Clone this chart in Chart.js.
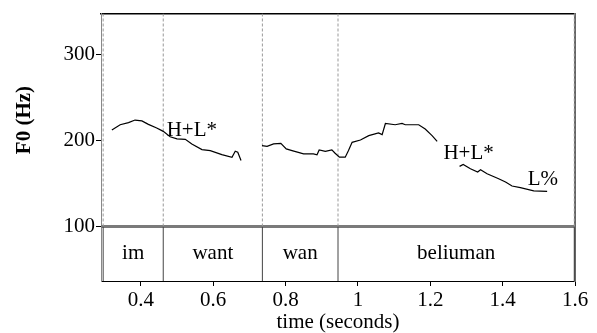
<!DOCTYPE html>
<html>
<head>
<meta charset="utf-8">
<script src="https://cdn.jsdelivr.net/npm/chart.js@4"></script>
<style>
  html, body { margin: 0; padding: 0; background: #fff; }
  #wrap { width: 597px; height: 333px; }
</style>
</head>
<body>
<div id="wrap"><canvas id="pitchChart"></canvas></div>
<script>
// F0 contour, one array pair per voiced stretch (seconds, Hz)
const seg1Time = [0.320, 0.343, 0.366, 0.384, 0.403, 0.421, 0.444, 0.462, 0.481, 0.500, 0.523, 0.541, 0.569, 0.592, 0.624, 0.652, 0.661, 0.668, 0.677];
const seg1F0   = [212.4, 218.5, 221.0, 224.0, 223.0, 219.0, 214.7, 210.8, 204.6, 202.0, 201.5, 196.0, 189.6, 188.4, 183.8, 180.7, 187.7, 186.5, 176.9];

const seg2Time = [0.735, 0.749, 0.767, 0.787, 0.802, 0.818, 0.850, 0.877, 0.887, 0.893, 0.910, 0.928, 0.937, 0.949, 0.965, 0.974, 0.984, 1.007, 1.030, 1.057, 1.067, 1.076, 1.103, 1.122, 1.131, 1.168, 1.186, 1.205, 1.219];
const seg2F0   = [194.2, 193.4, 196.2, 196.9, 190.4, 188.4, 184.6, 184.6, 183.5, 189.2, 187.6, 189.2, 185.3, 180.7, 180.7, 188.4, 198.0, 200.8, 205.8, 208.9, 207.0, 220.0, 218.5, 220.0, 218.5, 218.5, 213.5, 205.8, 199.2];

const seg3Time = [1.281, 1.291, 1.311, 1.331, 1.339, 1.357, 1.389, 1.408, 1.426, 1.449, 1.486, 1.523];
const seg3F0   = [170.0, 172.3, 167.3, 163.4, 166.1, 161.5, 155.7, 151.8, 147.2, 145.3, 141.4, 141.0];

// word tier
const wordBounds = [0.296, 0.462, 0.736, 0.945, 1.598];
const words = ['im', 'want', 'wan', 'beliuman'];

// tone labels
const toneLabels = ['H+L*', 'H+L*', 'L%'];
const toneTime = [0.541, 1.306, 1.511];
const toneF0 = [211.6, 185.3, 154.9];

// axes
const xTicks = [0.4, 0.6, 0.8, 1, 1.2, 1.4, 1.6];
const yTicks = [100, 200, 300];
const xMin = 0.29, xMax = 1.6;
const yMin = 36.5, yMax = 348, tierTop = 100;

const serif = '"Liberation Serif", "Times New Roman", serif';

const toPts = (ts, vs) => ts.map((t, i) => ({ x: t, y: vs[i] }));

// boundary lines: dashed in the pitch panel, solid in the tier
const dashedPts = [], solidPts = [];
wordBounds.forEach(b => {
  dashedPts.push({ x: b, y: tierTop }, { x: b, y: yMax }, { x: b, y: null });
  solidPts.push({ x: b, y: yMin }, { x: b, y: tierTop }, { x: b, y: null });
});

const contour = { borderColor: '#000', borderWidth: 1.2, pointRadius: 0, fill: false, tension: 0 };

const textLayer = {
  id: 'textLayer',
  afterDatasetsDraw(chart) {
    const { ctx, scales: { x, y } } = chart;
    ctx.save();
    ctx.fillStyle = '#000';
    ctx.textAlign = 'center';
    ctx.textBaseline = 'middle';
    ctx.font = '21px ' + serif;
    const tierMid = y.getPixelForValue((yMin + tierTop) / 2);
    words.forEach((w, i) => {
      const cx = x.getPixelForValue((wordBounds[i] + wordBounds[i + 1]) / 2);
      ctx.fillText(w, cx, tierMid);
    });
    toneLabels.forEach((t, i) => {
      ctx.fillText(t, x.getPixelForValue(toneTime[i]), y.getPixelForValue(toneF0[i]));
    });
    // y axis title, centred on the pitch panel
    const py = (y.getPixelForValue(yMax) + y.getPixelForValue(tierTop)) / 2;
    ctx.translate(25, py);
    ctx.rotate(-Math.PI / 2);
    ctx.font = 'bold 21px ' + serif;
    ctx.fillText('F0 (Hz)', 0, 0);
    ctx.restore();
  }
};

new Chart(document.getElementById('pitchChart'), {
  type: 'line',
  data: {
    datasets: [
      { ...contour, data: toPts(seg1Time, seg1F0) },
      { ...contour, data: toPts(seg2Time, seg2F0) },
      { ...contour, data: toPts(seg3Time, seg3F0) },
      { data: dashedPts, borderColor: '#999', borderWidth: 1, borderDash: [3, 2], pointRadius: 0, spanGaps: false },
      { data: solidPts, borderColor: '#444', borderWidth: 1, pointRadius: 0, spanGaps: false },
      { data: [{ x: xMin, y: tierTop }, { x: xMax, y: tierTop }], borderColor: '#7a7a7a', borderWidth: 3, pointRadius: 0 }
    ]
  },
  options: {
    responsive: true,
    maintainAspectRatio: false,
    animation: false,
    layout: { padding: { top: 12, right: 22, left: 0, bottom: 0 } },
    plugins: { legend: { display: false }, tooltip: { enabled: false } },
    scales: {
      x: {
        type: 'linear', min: xMin, max: xMax,
        afterBuildTicks: s => { s.ticks = xTicks.map(v => ({ value: v })); },
        afterFit: s => { s.height = 52; },
        ticks: {
          color: '#000', font: { family: serif, size: 21 }, padding: 2,
          maxRotation: 0, autoSkip: false,
          callback: v => (v === 1 ? '1' : v.toFixed(1))
        },
        grid: { drawOnChartArea: false, tickLength: 5, color: '#000' },
        border: { color: '#000', width: 1 },
        title: { display: true, text: 'time (seconds)', color: '#000', font: { family: serif, size: 21, lineHeight: 1 }, padding: { top: 0, bottom: 0 } }
      },
      xTop: {
        type: 'linear', position: 'top', min: xMin, max: xMax,
        afterFit: s => { s.height = 0; },
        ticks: { display: false },
        grid: { drawOnChartArea: false, drawTicks: false },
        border: { color: '#000', width: 1.5 }
      },
      y: {
        type: 'linear', min: yMin, max: yMax,
        afterBuildTicks: s => { s.ticks = yTicks.map(v => ({ value: v })); },
        afterFit: s => { s.width = 101; },
        ticks: { color: '#000', font: { family: serif, size: 21 }, padding: 1 },
        grid: { drawOnChartArea: false, tickLength: 5, color: '#000' },
        border: { color: '#888', width: 1 }
      },
      yRight: {
        type: 'linear', position: 'right', min: yMin, max: yMax,
        afterFit: s => { s.width = 0; },
        ticks: { display: false },
        grid: { drawOnChartArea: false, drawTicks: false },
        border: { color: '#666', width: 2 }
      }
    }
  },
  plugins: [textLayer]
});
</script>
</body>
</html>
